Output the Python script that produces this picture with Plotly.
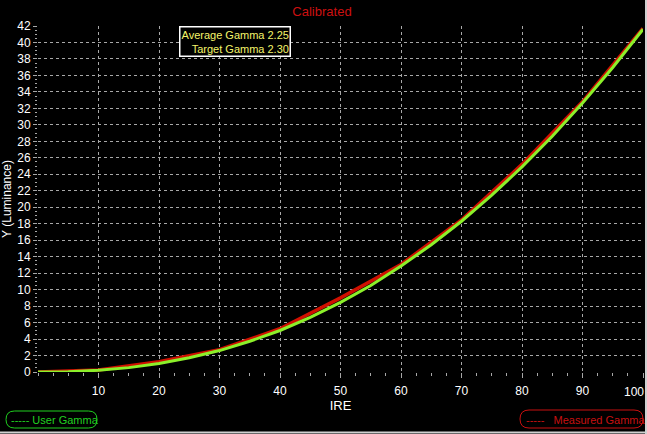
import plotly.graph_objects as go

# IRE steps and luminance readings
ire_user = [0, 5, 10, 15, 20, 25, 30, 35, 40, 45, 50,
            55, 60, 65, 70, 75, 80, 85, 90, 95, 100]
user_gamma = [0, 0.04, 0.21, 0.53, 1.03, 1.72, 2.60, 3.73, 5.04, 6.62, 8.45,
              10.5, 12.86, 15.45, 18.3, 21.47, 24.9, 28.62, 32.65, 36.97, 41.6]

ire_meas = [0, 10, 20, 30, 40, 50, 60, 70, 80, 90, 100]
measured_gamma = [0, 0.25, 1.25, 2.7, 5.25, 9.0, 13.05, 18.45, 25.2, 32.8, 41.7]

x_ticks = [10, 20, 30, 40, 50, 60, 70, 80, 90]
x_last = 100
y_ticks = list(range(0, 43, 2))

info_text = "Average Gamma 2.25<br>Target Gamma 2.30"

# plot area in pixels (left, right, top, bottom)
L, R, T, B = 38, 643, 26, 372
W, H = 647, 434


def px(x, y):
    return (x - L) / (R - L), (B - y) / (B - T)


def pill(x0, y0, x1, y1, color):
    # rounded box made of quadratic curves, coords in pixels
    r = (y1 - y0) / 2
    ax, ay = px(x0 + r, y0)
    bx, by = px(x1 - r, y0)
    cx, cy = px(x1, y0)
    dx, dy = px(x1, y0 + r)
    ex, ey = px(x1, y1)
    fx, fy = px(x1 - r, y1)
    gx, gy = px(x0 + r, y1)
    hx, hy = px(x0, y1)
    ix, iy = px(x0, y0 + r)
    jx, jy = px(x0, y0)
    path = (f"M {ax},{ay} L {bx},{by} Q {cx},{cy} {dx},{dy} Q {ex},{ey} {fx},{fy} "
            f"L {gx},{gy} Q {hx},{hy} {ix},{iy} Q {jx},{jy} {ax},{ay} Z")
    return dict(type="path", xref="paper", yref="paper", path=path,
                line=dict(color=color, width=1))


fig = go.Figure()
fig.add_trace(go.Scatter(x=ire_meas, y=measured_gamma, mode="lines",
                         line=dict(color="#d01000", width=3.5), name="Measured Gamma"))
fig.add_trace(go.Scatter(x=ire_user, y=user_gamma, mode="lines",
                         line=dict(color="#8cf02a", width=3), name="User Gamma"))

font = "Liberation Sans, Arial, sans-serif"
grid = dict(showgrid=True, gridcolor="#a8a8a8", griddash="3px,3px", gridwidth=1,
            zeroline=False, showline=False, color="white", automargin=False,
            tickfont=dict(size=12, color="white", family=font))

fig.update_xaxes(range=[0, 100], tickvals=x_ticks + [x_last], ticktext=[str(v) for v in x_ticks] + [""],
                 ticks="outside", ticklen=5, tickcolor="#a8a8a8", ticklabelstandoff=3,
                 minor=dict(dtick=2.5, ticks="outside", ticklen=3, tickcolor="#a8a8a8", showgrid=False),
                 title=dict(text="IRE", font=dict(size=13, color="white", family=font), standoff=2),
                 **grid)
fig.update_yaxes(range=[0, 42], tickvals=y_ticks, ticks="outside", ticklen=4,
                 tickcolor="#a8a8a8",
                 minor=dict(dtick=0.5, ticks="outside", ticklen=2, tickcolor="#a8a8a8", showgrid=False),
                 title=dict(text="Y (Luminance)", font=dict(size=12, color="white", family=font), standoff=4),
                 **grid)

fig.update_layout(
    width=W, height=H,
    margin=dict(l=L, r=W - R, t=T, b=H - B, autoexpand=False),
    paper_bgcolor="black", plot_bgcolor="black",
    showlegend=False,
    font=dict(family=font, color="white"),
    title=dict(text="Calibrated", x=322 / W, xanchor="center", y=1 - 11 / H, yanchor="middle",
               font=dict(size=13, color="#cc1010", family=font)),
)

# last x label sits against the right edge
fig.add_annotation(xref="x", yref="paper", x=x_last, y=px(0, 383)[1], xanchor="right", yanchor="top",
                   xshift=3, text=str(x_last), showarrow=False,
                   font=dict(size=12, color="white", family=font))

ax0, ay0 = px(291, 26)
fig.add_annotation(xref="paper", yref="paper", x=ax0, y=ay0, xanchor="right", yanchor="top",
                   text=info_text, showarrow=False, align="right",
                   font=dict(size=11, color="#f4f46a", family=font),
                   bgcolor="black", bordercolor="white", borderwidth=1.5, borderpad=1)

fig.add_shape(pill(6, 411, 97, 428, "#20d020"))
lx, ly = px(9, 419.5)
fig.add_annotation(xref="paper", yref="paper", x=lx, y=ly, xanchor="left", yanchor="middle",
                   text="----- User Gamma", showarrow=False,
                   font=dict(size=11, color="#20d020", family=font))

fig.add_shape(pill(520, 410, 643, 428, "#c81010"))
rx, ry = px(524, 419.5)
fig.add_annotation(xref="paper", yref="paper", x=rx, y=ry, xanchor="left", yanchor="middle",
                   text="-----   Measured Gamma", showarrow=False,
                   font=dict(size=11, color="#c81010", family=font))

# window frame edges
fig.add_shape(type="line", xref="paper", yref="paper", x0=px(0, 432.5)[0], y0=px(0, 432.5)[1],
              x1=px(647, 432.5)[0], y1=px(647, 432.5)[1], line=dict(color="#d0d0d0", width=2))
fig.add_shape(type="line", xref="paper", yref="paper", x0=px(646, 0)[0], y0=px(646, 0)[1],
              x1=px(646, 434)[0], y1=px(646, 434)[1], line=dict(color="#d0d0d0", width=2))

# page has a default 8px body margin; drop it so the figure sits at the corner
fig.write_html("out.html", config={"displayModeBar": False},
               post_script="document.body.style.margin='0';document.body.style.overflow='hidden';")
